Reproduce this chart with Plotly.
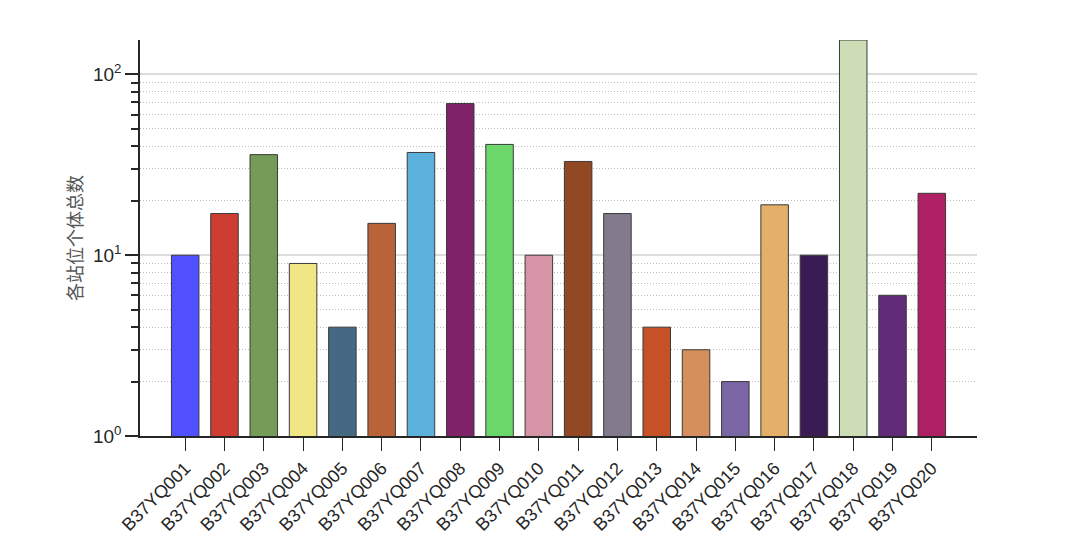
import plotly.graph_objects as go
import math

stations = [f"B37YQ{str(i).zfill(3)}" for i in range(1, 21)]
counts = [10, 17, 36, 9, 4, 15, 37, 69, 41, 10, 33, 17, 4, 3, 2, 19, 10, 155, 6, 22]
colors = ["#5050FF", "#CE3D32", "#749B58", "#F0E685", "#466983", "#BA6338", "#5DB1DD",
          "#802268", "#6BD76B", "#D595A7", "#924822", "#837B8D", "#C75127", "#D58F5C",
          "#7A65A5", "#E4AF69", "#3B1B53", "#CDDEB7", "#612A79", "#AE1F63"]
y_ticks = [1, 10, 100]
y_ticktext = ["10<sup>0</sup>", "10<sup>1</sup>", "10<sup>2</sup>"]
y_title = "各站位个体总数"

minor_vals = [m * d for d in (1, 10, 100) for m in range(2, 10)]

fig = go.Figure(go.Bar(
    x=list(range(len(stations))), y=counts,
    marker=dict(color=colors, line=dict(color="#3a3a3a", width=1)),
    width=0.7,
))

fig.update_layout(
    width=1080, height=540,
    margin=dict(l=140, r=103, t=40, b=104),
    plot_bgcolor="white", paper_bgcolor="white",
    showlegend=False,
    font=dict(family="Liberation Sans, Arial, sans-serif", color="#262626"),
)
fig.update_xaxes(
    range=[-1.15, 20.15], automargin=False,
    tickmode="array", tickvals=list(range(len(stations))), ticktext=stations,
    tickangle=-45, ticks="outside", ticklen=13, tickwidth=1.2, tickcolor="#262626",
    showline=True, linecolor="#262626", linewidth=1.5,
    showgrid=False, zeroline=False,
    tickfont=dict(size=18, color="#262626"),
)
fig.update_yaxes(
    type="log", range=[0, math.log10(155)], automargin=False,
    tickmode="array", tickvals=y_ticks, ticktext=y_ticktext,
    ticks="outside", ticklen=13, tickwidth=1.5, tickcolor="#262626",
    showline=True, linecolor="#262626", linewidth=1.5,
    showgrid=True, gridcolor="#dcdcdc", gridwidth=1.5,
    zeroline=False,
    tickfont=dict(size=19, color="#262626"),
    minor=dict(tickmode="array", tickvals=minor_vals, ticks="outside", ticklen=7,
               tickwidth=1.5, tickcolor="#262626", showgrid=True,
               gridcolor="#bdbdbd", griddash="1px,2px", gridwidth=1),
    title=dict(text=y_title, font=dict(family="Noto Sans CJK SC", size=18, color="#555555"),
               standoff=6),
)

fig.write_html("out.html")
